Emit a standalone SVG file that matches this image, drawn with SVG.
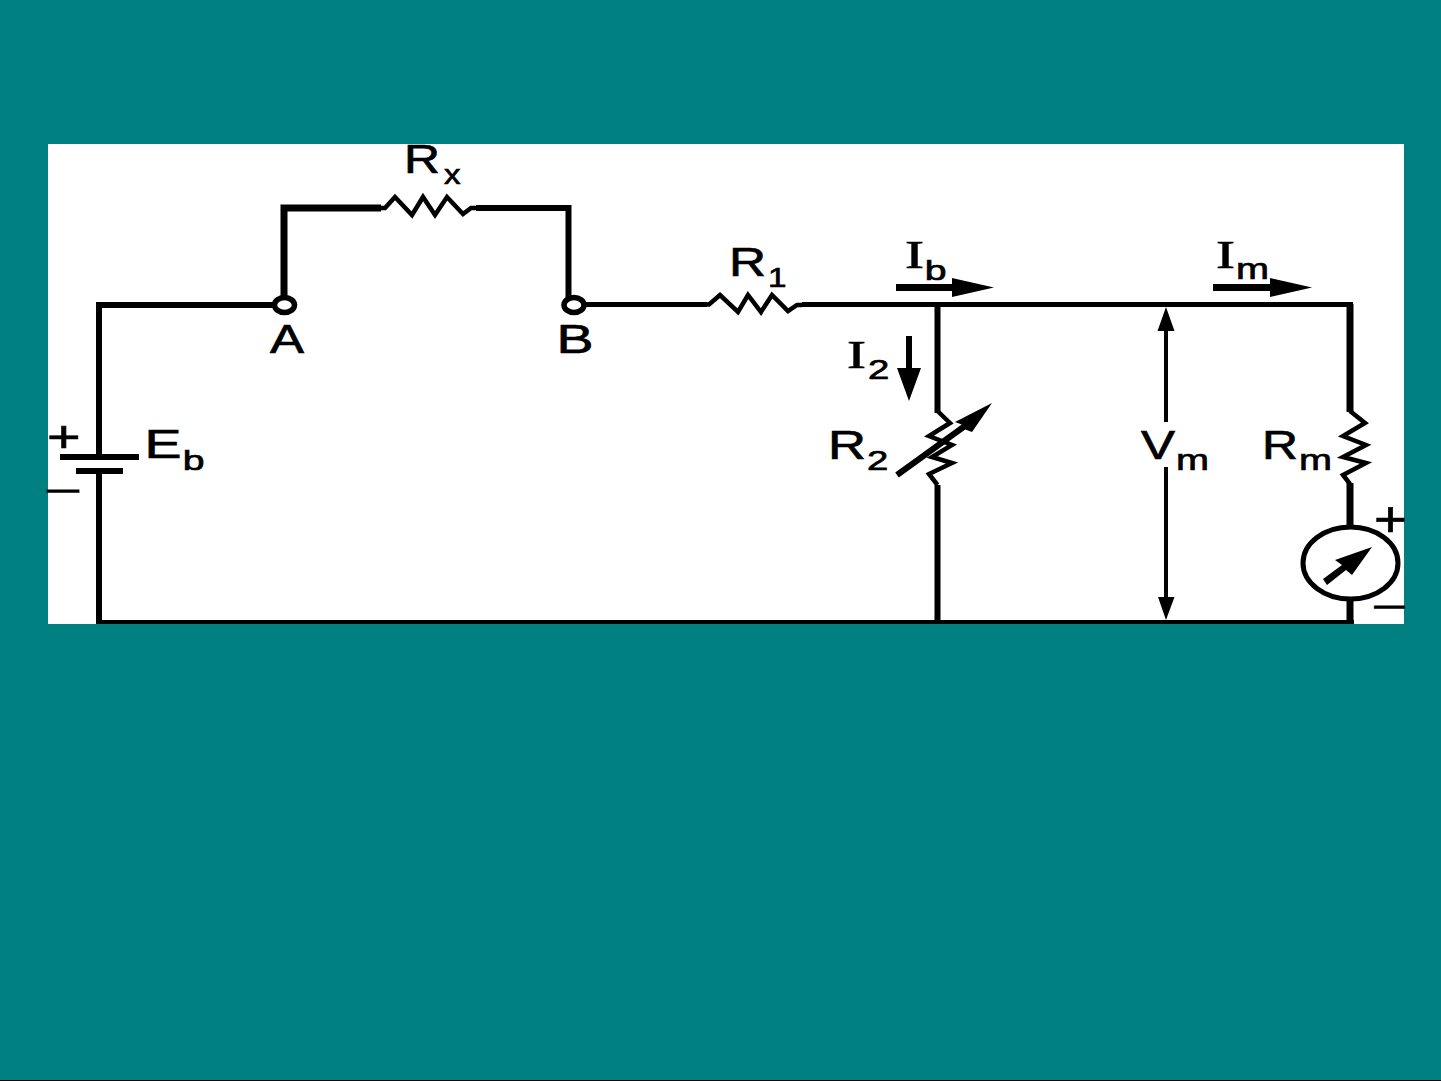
<svg xmlns="http://www.w3.org/2000/svg" width="1441" height="1081" viewBox="0 0 1441 1081">
<style>
.w{fill:none;stroke:#000;stroke-width:5;stroke-linejoin:miter;stroke-linecap:butt}
.z{fill:none;stroke:#000;stroke-width:4.5;stroke-linejoin:miter}
.k{fill:#000;stroke:none}
text{fill:#000;stroke:#000;stroke-width:.7px;font-family:"Liberation Sans",Arial,sans-serif}
.m{font-size:41px}
.s{font-size:28px}
.i{font-size:41px;font-family:"Liberation Serif","Times New Roman",serif}
</style>
<rect width="1441" height="1081" fill="#008080"/>
<rect x="48" y="144" width="1356" height="480" fill="#fff"/>
<rect x="0" y="1080" width="1441" height="1" fill="#000"/>
<g id="connectors">
<path class="w" d="M99 457V305H284" style="stroke-width:6"/>
<path class="w" d="M99 471V624" style="stroke-width:6"/>
<path class="w" d="M284 300V208H381" style="stroke-width:7"/>
<path class="w" d="M476 208H568.500V300" style="stroke-width:6"/>
<path class="w" d="M574 304.500H707"/>
<path class="w" d="M802 304.500H1353"/>
<path class="w" d="M937.500 305V413" style="stroke-width:6"/>
<path class="w" d="M937.500 485V622" style="stroke-width:6"/>
<path class="w" d="M1350 304V412" style="stroke-width:7"/>
<path class="w" d="M1350 483V527" style="stroke-width:7"/>
<path class="w" d="M1350 600V622" style="stroke-width:7"/>
<path class="w" d="M96 622H1354" style="stroke-width:4"/>
</g>
<g id="terminal-a"><ellipse cx="284.500" cy="305" rx="10" ry="7.500" fill="#fff" stroke="#000" stroke-width="5.500"/><text class="m" x="270" y="353" textLength="34" lengthAdjust="spacingAndGlyphs">A</text></g>
<g id="terminal-b"><ellipse cx="574" cy="305" rx="10" ry="7.500" fill="#fff" stroke="#000" stroke-width="5.500"/><text class="m" x="556.600" y="353" textLength="37" lengthAdjust="spacingAndGlyphs">B</text></g>
<g id="battery">
<rect class="k" x="60" y="454" width="79" height="6"/>
<rect class="k" x="76" y="468" width="47" height="6"/>
<text x="47" y="452" font-size="45" textLength="33.600" lengthAdjust="spacingAndGlyphs">+</text>
<text x="44" y="503" font-size="36" textLength="38" lengthAdjust="spacingAndGlyphs">−</text>
<text class="m" x="144.600" y="458" textLength="37" lengthAdjust="spacingAndGlyphs">E</text>
<text class="s" x="182.700" y="470" textLength="21.800" lengthAdjust="spacingAndGlyphs">b</text>
</g>
<g id="rx">
<path class="z" d="M381 208L385 208L395 197L412 215L423 197L435 215L447 197L463 214L471 208H476"/>
<text class="m" x="404" y="173" textLength="36" lengthAdjust="spacingAndGlyphs">R</text>
<text class="s" x="444" y="184" textLength="16.500" lengthAdjust="spacingAndGlyphs">x</text>
</g>
<g id="r1">
<path class="z" d="M707 304.500H709L720 295L738 312L748 295L761 312L772 295L788 311L797 305H802"/>
<text class="m" x="729" y="276" textLength="37" lengthAdjust="spacingAndGlyphs">R</text>
<text class="s" x="768" y="287" textLength="18.500" lengthAdjust="spacingAndGlyphs">1</text>
</g>
<g id="r2">
<path class="z" d="M937.500 411L950 423L929 436L952 445L932 457L952 463L929 474L937.500 485"/>
<path class="k" d="M895.200 472.600L961.700 424.600L955 422L992 403L972 432L965.300 429.400L898.800 477.400Z"/>
<text class="m" x="828" y="459" textLength="38" lengthAdjust="spacingAndGlyphs">R</text>
<text class="s" x="867" y="470" textLength="21.300" lengthAdjust="spacingAndGlyphs">2</text>
</g>
<g id="ib">
<path class="k" d="M896 284H952V278L994 287.500L952 297V291H896Z"/>
<text class="i" x="905" y="268" textLength="19" lengthAdjust="spacingAndGlyphs">I</text>
<text class="s" x="924.700" y="280" textLength="21.800" lengthAdjust="spacingAndGlyphs">b</text>
</g>
<g id="i2">
<path class="k" d="M906 336H912V368H921L909 401L897 368H906Z"/>
<text class="i" x="847" y="368" textLength="19" lengthAdjust="spacingAndGlyphs">I</text>
<text class="s" x="868" y="379" textLength="21.300" lengthAdjust="spacingAndGlyphs">2</text>
</g>
<g id="im">
<path class="k" d="M1213 284H1270V278L1312 287.500L1270 297V291H1213Z"/>
<text class="i" x="1216" y="268" textLength="19" lengthAdjust="spacingAndGlyphs">I</text>
<text class="s" x="1236" y="279" style="font-size:30px" textLength="33" lengthAdjust="spacingAndGlyphs">m</text>
</g>
<g id="vm">
<path class="k" d="M1166 307L1174.500 331H1168V422H1164V331H1157.500Z"/>
<path class="k" d="M1164 467H1168V597H1174.500L1166 620L1158 597H1164Z"/>
<text class="m" x="1141" y="459" textLength="34" lengthAdjust="spacingAndGlyphs">V</text>
<text class="s" x="1176" y="470" style="font-size:30px" textLength="33" lengthAdjust="spacingAndGlyphs">m</text>
</g>
<g id="rm">
<path class="z" d="M1350 411L1365 423L1343 436L1366 445L1343 457L1366 463L1343 475L1350 484"/>
<text class="m" x="1262" y="459" textLength="36" lengthAdjust="spacingAndGlyphs">R</text>
<text class="s" x="1299" y="470" style="font-size:30px" textLength="33" lengthAdjust="spacingAndGlyphs">m</text>
</g>
<g id="meter">
<ellipse cx="1350.500" cy="563" rx="47.500" ry="36" fill="#fff" stroke="#000" stroke-width="5"/>
<path class="k" d="M1323 579L1342 565L1335 560L1372 547L1352 575L1346 570L1327 585Z"/>
<text x="1374" y="536" font-size="50" textLength="33" lengthAdjust="spacingAndGlyphs">+</text>
<text x="1371.600" y="619" font-size="36" textLength="35.900" lengthAdjust="spacingAndGlyphs">−</text>
</g>
</svg>
